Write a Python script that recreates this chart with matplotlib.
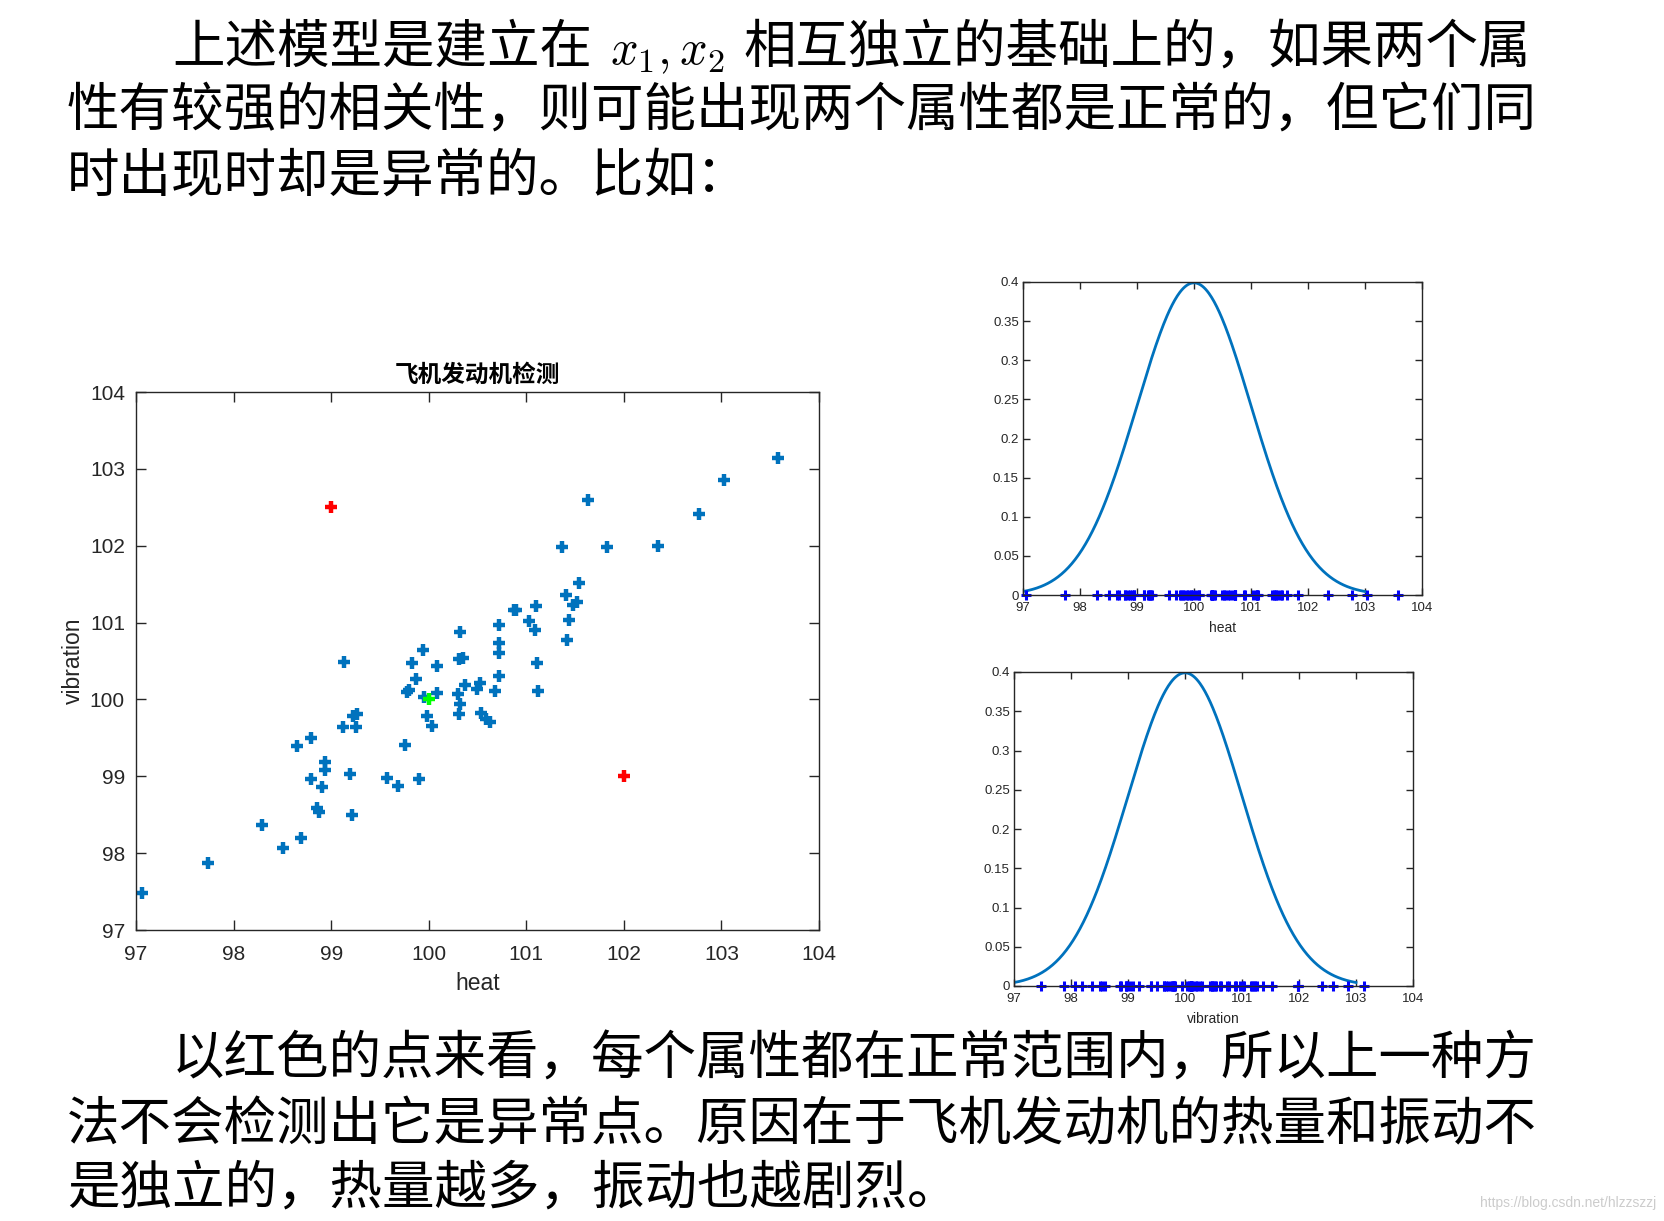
import numpy as np
import matplotlib
matplotlib.use('Agg')
import matplotlib.pyplot as plt

# ---------------- data ----------------
heat = [97.06, 97.74, 98.29, 98.51, 98.69, 98.65, 98.79, 98.94, 98.94, 98.79,
        98.91, 98.85, 98.88, 99.19, 99.21, 99.12, 99.25, 99.22, 99.26, 99.57,
        99.69, 99.90, 99.76, 99.78, 99.80, 99.95, 99.98, 100.03, 100.08, 100.30,
        100.32, 100.31, 100.37, 100.49, 100.53, 99.87, 99.83, 99.94, 100.08, 99.13,
        100.32, 100.31, 100.35, 100.54, 100.59, 100.63, 100.68, 101.12, 101.11, 100.72,
        100.72, 100.72, 100.72, 100.87, 100.89, 101.03, 101.09, 101.10, 101.42, 101.44,
        101.48, 101.52, 101.41, 101.54, 101.37, 101.83, 102.35, 101.63, 102.77, 103.03,
        103.58]
vibration = [97.48, 97.87, 98.37, 98.07, 98.20, 99.40, 99.50, 99.19, 99.08, 98.96,
             98.86, 98.59, 98.54, 99.03, 98.50, 99.64, 99.64, 99.78, 99.81, 98.98,
             98.87, 98.97, 99.41, 100.10, 100.12, 100.03, 99.79, 99.66, 100.08, 100.07,
             99.94, 99.81, 100.19, 100.14, 100.21, 100.26, 100.48, 100.64, 100.44, 100.49,
             100.88, 100.52, 100.54, 99.82, 99.75, 99.71, 100.11, 100.11, 100.48, 100.30,
             100.61, 100.74, 100.97, 101.17, 101.16, 101.02, 100.90, 101.21, 100.77, 101.03,
             101.23, 101.27, 101.36, 101.52, 101.98, 101.98, 101.99, 102.59, 102.41, 102.86,
             103.14]
anomaly_heat = [99.0, 102.0]
anomaly_vib = [102.5, 99.0]
center_heat = [100.0]
center_vib = [100.0]
mu, sigma = 100.0, 1.0
axis_ticks = [97, 98, 99, 100, 101, 102, 103, 104]
pdf_ticks = [0, 0.05, 0.1, 0.15, 0.2, 0.25, 0.3, 0.35, 0.4]
pdf_ticklabels = ['0', '0.05', '0.1', '0.15', '0.2', '0.25', '0.3', '0.35', '0.4']

title_text = '飞机发动机检测'
para1 = ['上述模型是建立在', '相互独立的基础上的，如果两个属',
         '性有较强的相关性，则可能出现两个属性都是正常的，但它们同',
         '时出现时却是异常的。比如：']
para2 = ['以红色的点来看，每个属性都在正常范围内，所以上一种方',
         '法不会检测出它是异常点。原因在于飞机发动机的热量和振动不',
         '是独立的，热量越多，振动也越剧烈。']
watermark = 'https://blog.csdn.net/hlzzszzj'

# ---------------- figure ----------------
W, H = 1664, 1221
fig = plt.figure(figsize=(W / 100, H / 100), dpi=100)
plt.rcParams['mathtext.fontset'] = 'cm'
CJK = ['Noto Sans CJK SC', 'DejaVu Sans']
LAT = ['Liberation Sans', 'DejaVu Sans']
SPINE = '#262626'


def rect(l, t, r, b):
    return [l / W, 1 - b / H, (r - l) / W, (b - t) / H]


def fx(x):
    return x / W


def fy(y):
    return 1 - y / H


# paragraph text
fs = 37.8
fig.text(fx(172), fy(48), para1[0], family=CJK, fontsize=fs, va='center', ha='left')
fig.text(fx(610), fy(52), r'$x_1, x_2$', fontsize=35, va='center', ha='left')
fig.text(fx(743), fy(48), para1[1], family=CJK, fontsize=fs, va='center', ha='left')
fig.text(fx(67), fy(111), para1[2], family=CJK, fontsize=fs, va='center', ha='left')
fig.text(fx(67), fy(177), para1[3], family=CJK, fontsize=fs, va='center', ha='left')

fig.text(fx(172), fy(1060), para2[0], family=CJK, fontsize=fs, va='center', ha='left')
fig.text(fx(67), fy(1126), para2[1], family=CJK, fontsize=fs, va='center', ha='left')
fig.text(fx(67), fy(1189), para2[2], family=CJK, fontsize=fs, va='center', ha='left')

fig.text(fx(1656), fy(1203), watermark, family=LAT, fontsize=10, color='#cccccc',
         va='center', ha='right')


def style_axes(ax, ticklen, fsz, pad):
    for s in ax.spines.values():
        s.set_color(SPINE)
        s.set_linewidth(1.0)
    ax.tick_params(direction='in', top=True, right=True, length=ticklen,
                   width=1.0, color=SPINE, labelsize=fsz, pad=pad, labelcolor='#262626')
    for lab in ax.get_xticklabels() + ax.get_yticklabels():
        lab.set_family(LAT)


# main scatter
ax = fig.add_axes(rect(136, 392, 819, 930))
ax.plot(heat, vibration, ls='none', marker='+', color='#0072BD', ms=9, mew=3.2)
ax.plot(anomaly_heat, anomaly_vib, ls='none', marker='+', color='#FF0000', ms=9, mew=3.2)
ax.plot(center_heat, center_vib, ls='none', marker='+', color='#00FF00', ms=9, mew=3.2)
ax.set_xlim(97, 104)
ax.set_ylim(97, 104)
ax.set_xticks(axis_ticks)
ax.set_yticks(axis_ticks)
style_axes(ax, 7, 15, 11)
ax.tick_params(axis='y', pad=8)
ax.text(0.5, (392 - 375) / 538 + 1, title_text, transform=ax.transAxes, family=CJK,
        fontsize=17, fontweight='bold', ha='center', va='center')
ax.text(0.5, -(984 - 930) / 538, 'heat', transform=ax.transAxes, family=LAT,
        fontsize=16.5, ha='center', va='center', color='#262626')
ax.text(-(136 - 73) / 683, 0.5, 'vibration', transform=ax.transAxes, family=LAT,
        fontsize=16.5, ha='center', va='center', rotation=90, color='#262626')

# gaussian panels
xs = np.linspace(97, 103, 400)
pdf = np.exp(-0.5 * ((xs - mu) / sigma) ** 2) / (sigma * np.sqrt(2 * np.pi))

panels = [((1023, 282, 1422, 595), heat, 'heat'),
          ((1014, 672, 1413, 986), vibration, 'vibration')]
for (l, t, r, b), vals, lbl in panels:
    a = fig.add_axes(rect(l, t, r, b))
    a.plot(xs, pdf, color='#0072BD', lw=2.0)
    a.plot(vals, np.zeros(len(vals)), ls='none', marker='+', color='#0000FF',
           ms=6.5, mew=2.2, clip_on=False)
    a.set_xlim(97, 104)
    a.set_ylim(0, 0.4)
    a.set_xticks(axis_ticks)
    a.set_yticks(pdf_ticks)
    a.set_yticklabels(pdf_ticklabels)
    style_axes(a, 5, 9.5, 3)
    a.tick_params(axis='x', pad=5)
    a.text(0.5, -(628 - 595) / (b - t), lbl, transform=a.transAxes, family=LAT,
           fontsize=10, ha='center', va='center', color='#262626')

fig.savefig('out.png', dpi=100, facecolor='white')
